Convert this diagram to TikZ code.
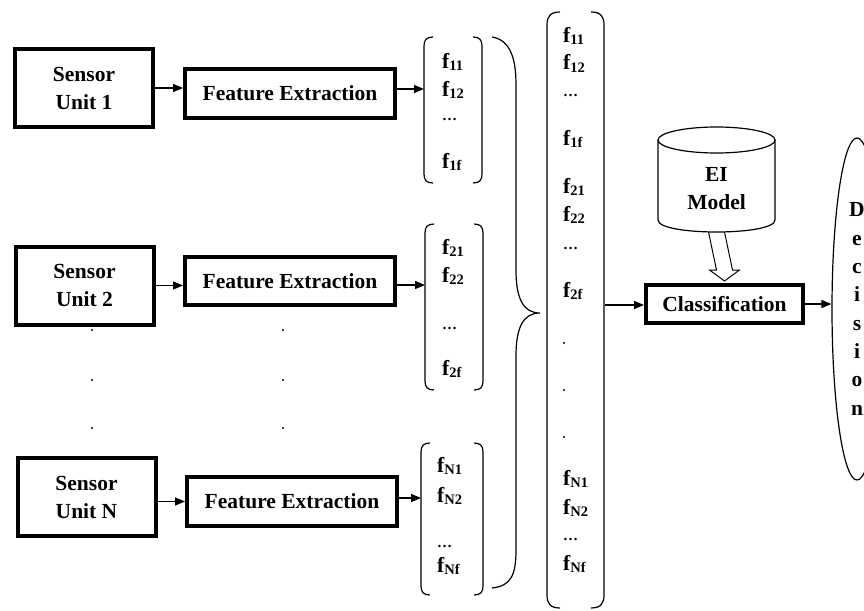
\documentclass[tikz,border=0pt]{standalone}
\usepackage{fontspec}
\setmainfont{Liberation Serif}
\usetikzlibrary{arrows.meta,shapes.geometric,calc}
\newcommand\mysub[1]{\raisebox{-2.5pt}{\fontsize{14.5}{14.5}\selectfont #1}}
\newcommand\mybrack[5]{%
  \draw[brk] ({#1+#5},{#3}) .. controls ({#1+0.25*#5},{#3}) and ({#1},{#3+0.35*#5}) .. ({#1},{#3+#5}) -- ({#1},{#4-#5}) .. controls ({#1},{#4-0.35*#5}) and ({#1+0.25*#5},{#4}) .. ({#1+#5},{#4});
  \draw[brk] ({#2-#5},{#3}) .. controls ({#2-0.25*#5},{#3}) and ({#2},{#3+0.35*#5}) .. ({#2},{#3+#5}) -- ({#2},{#4-#5}) .. controls ({#2},{#4-0.35*#5}) and ({#2-0.25*#5},{#4}) .. ({#2-#5},{#4});
}
\begin{document}
\begin{tikzpicture}[x=1pt,y=-1pt,
  font=\fontsize{21.5}{28}\selectfont\bfseries,
  box/.style={draw, line width=4pt, align=center, inner sep=0pt},
  arr/.style={line width=1.3pt, -{Triangle[length=10pt,width=8pt]}},
  brk/.style={line width=1.2pt},
  item/.style={anchor=base west, inner sep=0pt},
  dotsym/.style={circle, fill, inner sep=0pt, minimum size=2.4pt},
  ell/.style={anchor=base west, inner sep=0pt, font=\fontsize{15}{18}\selectfont\bfseries}]
\useasboundingbox (0,0) rectangle (864,610);
\fill[white] (0,0) rectangle (864,610);
\clip (0,0) rectangle (864,610);

% sensor units
\node[box, minimum width=138pt, minimum height=78pt] (s1) at (84,88) {Sensor\\Unit 1};
\node[box, minimum width=138pt, minimum height=78pt] (s2) at (84.5,285.5) {Sensor\\Unit 2};
\node[box, minimum width=138pt, minimum height=78pt] (sN) at (86.5,497) {Sensor\\Unit N};

% feature extraction
\node[box, minimum width=210pt, minimum height=49pt] (fe1) at (290,93.5) {Feature Extraction};
\node[box, minimum width=210pt, minimum height=48pt] (fe2) at (290,281) {Feature Extraction};
\node[box, minimum width=210pt, minimum height=49pt] (feN) at (292,501.5) {Feature Extraction};

% vertical dots
\foreach \yy [count=\i] in {330,380,428}{
  \node[dotsym] (ds\i) at (92,\yy) {};
  \node[dotsym] (df\i) at (283,\yy) {};
}

\draw[arr] (s1.east) -- (s1.east -| fe1.west);
\draw[arr] (s2.east) -- (s2.east -| fe2.west);
\draw[arr] (feN.west -| sN.east) -- (feN.west);

% feature brackets
\mybrack{424}{482}{37}{183}{9}
\mybrack{425}{483}{224}{390}{9}
\mybrack{421}{483}{443}{595}{9}
\coordinate (b1) at (424,89);
\coordinate (b2) at (425,285);
\coordinate (bN) at (421,498);
\draw[arr] (fe1.east |- b1) -- (b1);
\draw[arr] (fe2.east |- b2) -- (b2);
\draw[arr] (feN.east |- bN) -- (bN);

\node[item] (a11) at (442,68) {f\mysub{11}};
\node[item] (a12) at (442,96) {f\mysub{12}};
\node[ell]  (a1d) at (442,120) {…};
\node[item] (a1f) at (442,168) {f\mysub{1f}};

\node[item] (a21) at (442,254) {f\mysub{21}};
\node[item] (a22) at (442,282) {f\mysub{22}};
\node[ell]  (a2d) at (442,329) {…};
\node[item] (a2f) at (442,375) {f\mysub{2f}};

\node[item] (aN1) at (437,472) {f\mysub{N1}};
\node[item] (aN2) at (437,502) {f\mysub{N2}};
\node[ell]  (aNd) at (437,547) {…};
\node[item] (aNf) at (437,572) {f\mysub{Nf}};

% big brace
\draw[brk] (492,37) .. controls (511,40) and (516,60) .. (516,85) -- (516,270)
  .. controls (516,300) and (524,313) .. (540,313)
  .. controls (524,313) and (516,326) .. (516,356) -- (516,550)
  .. controls (516,575) and (511,586) .. (492,588);

% column vector
\mybrack{547}{604}{12}{608}{13}
\node[item] (c11) at (563,42) {f\mysub{11}};
\node[item] (c12) at (563,70) {f\mysub{12}};
\node[ell]  (c1d) at (563,96) {…};
\node[item] (c1f) at (563,145) {f\mysub{1f}};
\node[item] (c21) at (563,193) {f\mysub{21}};
\node[item] (c22) at (563,221) {f\mysub{22}};
\node[ell]  (c2d) at (563,249) {…};
\node[item] (c2f) at (563,297) {f\mysub{2f}};
\node[dotsym] (cd1) at (564,343) {};
\node[dotsym] (cd2) at (564,390) {};
\node[dotsym] (cd3) at (564,437) {};
\node[item] (cN1) at (563,485) {f\mysub{N1}};
\node[item] (cN2) at (563,514) {f\mysub{N2}};
\node[ell]  (cNd) at (563,540) {…};
\node[item] (cNf) at (563,570) {f\mysub{Nf}};
\coordinate (col) at (605,305);

% classification
\node[box, minimum width=157pt, minimum height=38pt] (cls) at (724.5,304) {Classification};
\draw[arr] (col) -- (col -| cls.west);

% EI model cylinder
\draw[line width=1.2pt] (716.5,140) ellipse [x radius=58.5, y radius=13];
\draw[line width=1.2pt] (658,140) -- (658,220) .. controls (658,236) and (775,236) .. (775,220) -- (775,140);
\node[inner sep=0pt, align=center] (ei) at (716.5,189) {EI\\Model};
\coordinate (cylb) at (716.5,232);
\draw[line width=1pt] ($(cylb)+(-8,0)$) -- ($(cls.north)+(-8,-13)$) -- ($(cls.north)+(-15,-13)$)
  -- ($(cls.north)+(0,-2)$) -- ($(cls.north)+(15,-13)$) -- ($(cls.north)+(8,-13)$) -- ($(cylb)+(8,0)$);

% decision
\node[draw, ellipse, line width=1.2pt, minimum width=50pt, minimum height=342pt, inner sep=0pt,
  align=center, font=\fontsize{21.5}{28.3}\selectfont\bfseries] (dec) at (857,309) {D\\e\\c\\i\\s\\i\\o\\n};
\draw[arr] (cls.east) -- (cls.east -| dec.west);
\end{tikzpicture}
\end{document}
